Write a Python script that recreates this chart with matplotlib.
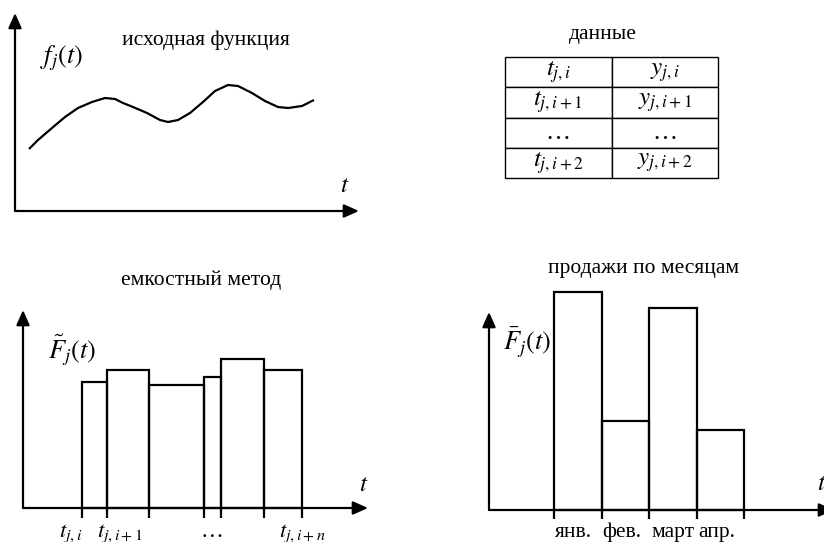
import numpy as np
import matplotlib
matplotlib.use("Agg")
import matplotlib.pyplot as plt

plt.rcParams['font.family'] = ['Liberation Serif', 'DejaVu Serif']
plt.rcParams['mathtext.fontset'] = 'stix'

W, H = 824, 542   # figure size in pixels

# --- panel 1: source function (units = px from the axis origin) ---
curve_t = [14, 23, 37, 50, 63, 77, 90, 100, 108, 118, 132, 145, 153,
           163, 175, 188, 200, 213, 223, 237, 250, 263, 273, 287, 299]
curve_f = [62, 71, 83, 94, 103, 109, 113, 112, 108, 104, 98, 91, 89,
           91, 98, 109, 120, 126, 125, 118, 110, 104, 103, 105, 111]

# --- panel 2: data table ---
table_rows = [[r'$t_{j,i}$', r'$y_{j,i}$'],
              [r'$t_{j,i+1}$', r'$y_{j,i+1}$'],
              ['…', '…'],
              [r'$t_{j,i+2}$', r'$y_{j,i+2}$']]

# --- panel 3: capacity method ---
cap_edges = [59, 84, 126, 181, 198, 241, 279]
cap_heights = [126, 138, 123, 131, 149, 138]
cap_ticklabels = [r'$t_{j,i}$', r'$t_{j,i+1}$', '…', r'$t_{j,i+n}$']
cap_tickpos = [48, 97, 189, 279]

# --- panel 4: monthly sales ---
sales_edges = [65, 113, 160, 208, 255]
sales_heights = [218, 89, 202, 80]
months = ['янв.', 'фев.', 'март', 'апр.']
month_pos = [84, 133, 184, 228]


def fx(x):
    return x / W


def fy(y):
    return 1 - y / H


def panel_axes(ox, oy):
    # full-figure axes whose data origin sits at pixel (ox, oy)
    ax = fig.add_axes([0, 0, 1, 1])
    ax.set_xlim(-ox, W - ox)
    ax.set_ylim(oy - H, oy)
    ax.axis('off')
    ax.patch.set_alpha(0)
    return ax


def arrow(ax, x0, y0, x1, y1):
    ax.annotate('', xy=(x1, y1), xytext=(x0, y0),
                arrowprops=dict(arrowstyle='-|>,head_length=0.9,head_width=0.4',
                                lw=1.6, color='black', shrinkA=0, shrinkB=0),
                annotation_clip=False)


fig = plt.figure(figsize=(W / 100, H / 100), dpi=100)

# panel 1
ax1 = panel_axes(15, 211)
arrow(ax1, 0, 0, 0, 198)
arrow(ax1, 0, 0, 344, 0)
ax1.plot(curve_t, curve_f, color='black', lw=1.6, solid_joinstyle='round',
         solid_capstyle='butt')
fig.text(fx(206), fy(40), 'исходная функция', ha='center', va='center', fontsize=15.5)
fig.text(fx(62), fy(58), r'$f_j(t)$', ha='center', va='center', fontsize=19)
fig.text(fx(345), fy(186), r'$t$', ha='center', va='center', fontsize=18)

# panel 2
ax2 = fig.add_axes([0, 0, 1, 1])
ax2.axis('off')
ax2.patch.set_alpha(0)
fig.text(fx(603), fy(35), 'данные', ha='center', va='center', fontsize=15.5)
tbl = ax2.table(cellText=table_rows, cellLoc='center',
                bbox=[fx(505), fy(178), fx(718) - fx(505), fy(57) - fy(178)])
tbl.auto_set_font_size(False)
for cell in tbl.get_celld().values():
    cell.set_linewidth(1.0)
    cell.get_text().set_fontsize(18)

# panel 3
ax3 = panel_axes(23, 508)
arrow(ax3, 0, 0, 0, 198)
arrow(ax3, 0, 0, 345, 0)
ax3.bar(cap_edges[:-1], cap_heights, width=np.diff(cap_edges), align='edge',
        fill=False, edgecolor='black', lw=1.6)
ax3.vlines(cap_edges, -10, 0, color='black', lw=1.6)
for p, lab in zip(cap_tickpos, cap_ticklabels):
    ax3.text(p, -29, lab, ha='center', va='baseline', fontsize=16.5)
fig.text(fx(201), fy(280), 'емкостный метод', ha='center', va='center', fontsize=15.5)
fig.text(fx(72), fy(350), r'$\tilde{F}_j(t)$', ha='center', va='center', fontsize=19)
fig.text(fx(364), fy(485), r'$t$', ha='center', va='center', fontsize=18)

# panel 4
ax4 = panel_axes(489, 510)
arrow(ax4, 0, 0, 0, 198)
arrow(ax4, 0, 0, 345, 0)
ax4.bar(sales_edges[:-1], sales_heights, width=np.diff(sales_edges), align='edge',
        fill=False, edgecolor='black', lw=1.6)
ax4.vlines(sales_edges, -9, 0, color='black', lw=1.6)
for p, lab in zip(month_pos, months):
    ax4.text(p, -27, lab, ha='center', va='baseline', fontsize=15.5)
fig.text(fx(644), fy(269), 'продажи по месяцам', ha='center', va='center', fontsize=15.5)
fig.text(fx(527), fy(342), r'$\bar{F}_j(t)$', ha='center', va='center', fontsize=19)
fig.text(fx(817), fy(484), r'$t$', ha='left', va='center', fontsize=18)

fig.savefig('out.png', dpi=100)
